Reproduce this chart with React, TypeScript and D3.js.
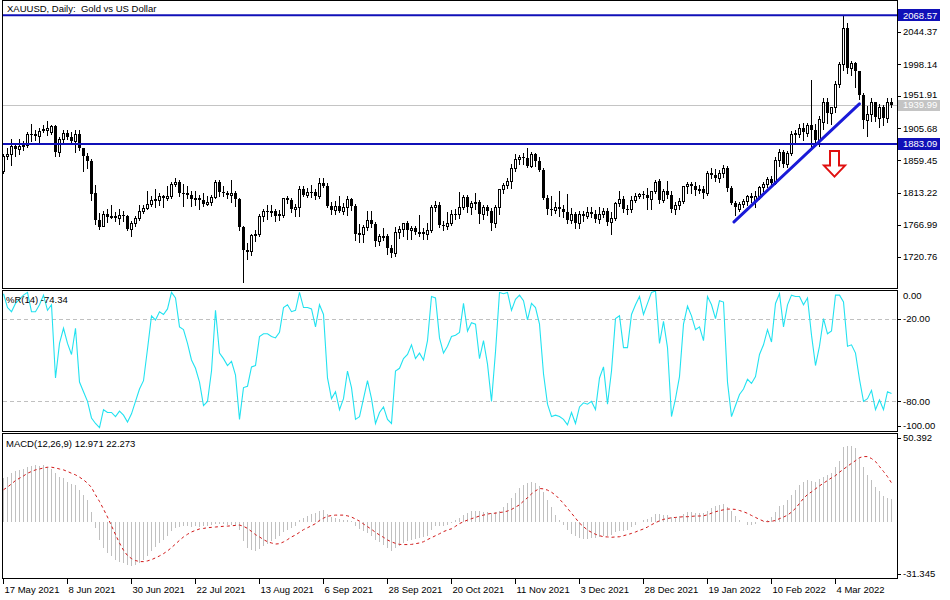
import React from "react";
import * as d3 from "d3";

const opens = [
  1845,1866,1869,1881,1876,1881,1882,1898,1897,1895,
  1903,1903,1900,1909,1871,1891,1899,1893,1888,1898,
  1877,1866,1859,1813,1774,1765,1783,1779,1779,1776,
  1781,1779,1761,1770,1777,1787,1791,1797,1803,1803,
  1808,1806,1809,1825,1829,1812,1812,1810,1804,1806,
  1802,1797,1799,1807,1828,1814,1813,1810,1812,1804,
  1763,1731,1729,1752,1753,1780,1787,1786,1787,1781,
  1781,1805,1802,1790,1792,1818,1810,1814,1814,1809,
  1827,1823,1794,1788,1794,1787,1793,1804,1794,1754,
  1754,1764,1774,1768,1743,1750,1751,1733,1726,1757,
  1761,1769,1760,1762,1756,1757,1754,1760,1793,1796,
  1767,1765,1769,1783,1782,1793,1807,1793,1798,1799,
  1783,1793,1787,1769,1792,1818,1824,1830,1849,1862,
  1865,1863,1851,1869,1859,1846,1805,1789,1788,1792,
  1789,1785,1774,1782,1769,1783,1779,1785,1783,1775,
  1783,1787,1771,1777,1798,1804,1790,1789,1803,1808,
  1811,1810,1804,1815,1830,1802,1816,1810,1789,1795,
  1801,1822,1826,1822,1817,1819,1813,1841,1839,1834,
  1842,1848,1820,1798,1790,1797,1801,1808,1803,1808,
  1821,1826,1833,1827,1860,1872,1855,1870,1898,1898,
  1906,1899,1910,1904,1889,1915,1944,1928,1936,1970,
  1998,2050,1993,2000,1988,1954,1918,1927,1943,1921,
  1936,1921,1944
];
const highs = [
  1869,1877,1890,1884,1890,1887,1900,1912,1903,1906,
  1910,1917,1911,1910,1894,1903,1903,1900,1903,1903,
  1878,1870,1862,1824,1784,1787,1790,1795,1785,1790,
  1786,1781,1772,1779,1795,1795,1815,1809,1818,1812,
  1810,1822,1829,1834,1832,1825,1822,1815,1815,1810,
  1812,1808,1810,1832,1832,1822,1816,1832,1816,1806,
  1765,1741,1754,1760,1782,1789,1795,1795,1790,1788,
  1806,1809,1806,1797,1822,1822,1820,1824,1818,1834,
  1834,1827,1799,1801,1809,1798,1809,1806,1797,1768,
  1767,1787,1787,1771,1753,1762,1754,1738,1764,1765,
  1770,1773,1765,1765,1781,1762,1770,1796,1801,1800,
  1772,1785,1788,1789,1814,1810,1810,1801,1813,1802,
  1795,1796,1791,1795,1819,1827,1834,1855,1869,1868,
  1870,1877,1871,1870,1865,1849,1810,1808,1800,1816,
  1796,1811,1791,1785,1786,1787,1793,1793,1788,1792,
  1791,1791,1785,1800,1815,1808,1795,1809,1812,1812,
  1815,1820,1815,1832,1833,1818,1830,1815,1800,1805,
  1823,1829,1829,1828,1824,1822,1845,1848,1847,1846,
  1853,1852,1822,1801,1800,1804,1810,1812,1815,1822,
  1829,1836,1837,1865,1876,1874,1873,1902,1904,1912,
  1914,1914,1975,1912,1923,1950,1950,1937,1974,2002,
  2069,2058,2003,2002,1989,1956,1938,1949,1944,1941,
  1940,1950,1949
];
const lows = [
  1842,1862,1853,1866,1869,1875,1879,1888,1889,1884,
  1901,1896,1898,1866,1866,1883,1890,1884,1871,1875,
  1845,1848,1803,1768,1761,1765,1771,1776,1773,1768,
  1772,1759,1750,1765,1774,1784,1789,1794,1793,1795,
  1792,1802,1806,1822,1809,1794,1806,1794,1795,1790,
  1794,1795,1796,1805,1808,1808,1806,1800,1794,1760,
  1685,1717,1724,1743,1750,1772,1775,1780,1773,1774,
  1778,1798,1785,1780,1780,1808,1807,1807,1804,1806,
  1821,1793,1782,1782,1785,1782,1781,1788,1745,1742,
  1742,1759,1764,1737,1738,1745,1725,1721,1722,1748,
  1750,1746,1746,1754,1750,1746,1747,1757,1787,1764,
  1760,1761,1766,1775,1777,1790,1785,1782,1789,1770,
  1775,1781,1759,1764,1782,1813,1820,1820,1845,1855,
  1855,1850,1850,1852,1844,1804,1782,1781,1784,1779,
  1778,1770,1770,1762,1762,1772,1776,1778,1771,1770,
  1778,1766,1753,1774,1794,1785,1782,1785,1800,1805,
  1806,1789,1789,1812,1798,1799,1805,1785,1783,1790,
  1798,1812,1813,1810,1812,1805,1810,1834,1830,1829,
  1836,1815,1797,1781,1786,1793,1796,1800,1792,1804,
  1816,1821,1822,1825,1851,1850,1850,1867,1886,1893,
  1889,1895,1878,1885,1880,1905,1913,1912,1930,1965,
  1990,1986,1983,1966,1948,1906,1895,1917,1917,1908,
  1910,1915,1936
];
const closes = [
  1866,1869,1881,1876,1881,1882,1898,1897,1895,1902,
  1905,1906,1909,1871,1891,1899,1893,1888,1898,1877,
  1866,1859,1811,1774,1764,1783,1778,1780,1776,1781,
  1779,1761,1770,1777,1787,1791,1797,1803,1804,1808,
  1806,1809,1825,1829,1812,1811,1810,1804,1806,1802,
  1797,1800,1807,1828,1814,1813,1810,1812,1804,1763,
  1730,1728,1752,1753,1780,1787,1786,1787,1780,1782,
  1805,1802,1790,1792,1818,1810,1814,1813,1809,1827,
  1823,1794,1788,1794,1787,1793,1804,1794,1754,1755,
  1764,1774,1768,1743,1750,1751,1733,1726,1757,1761,
  1769,1760,1762,1756,1757,1754,1760,1793,1796,1767,
  1765,1769,1783,1782,1793,1807,1793,1798,1799,1783,
  1793,1787,1769,1792,1818,1824,1830,1849,1862,1865,
  1863,1851,1869,1859,1846,1805,1789,1788,1792,1789,
  1785,1774,1782,1769,1783,1779,1785,1783,1775,1783,
  1787,1771,1777,1798,1804,1790,1789,1803,1808,1811,
  1810,1806,1815,1829,1802,1816,1810,1789,1795,1801,
  1822,1826,1822,1817,1819,1813,1841,1839,1834,1842,
  1848,1820,1798,1792,1797,1801,1808,1805,1808,1821,
  1826,1833,1827,1860,1872,1855,1870,1898,1899,1906,
  1900,1910,1904,1889,1919,1944,1928,1936,1970,1998,
  2050,1993,2000,1988,1954,1918,1927,1943,1922,1936,
  1921,1944,1940
];
const williamsR = [
  -2,-12,-15,-9,-6,-3,-1,-15,-15,-10,
  -3,-14,-10,-63,-38,-27,-38,-46,-27,-66,
  -73,-80,-92,-96,-99,-86,-88,-88,-91,-87,
  -90,-95,-89,-80,-71,-65,-42,-18,-21,-15,
  -17,-13,-1,-5,-26,-28,-38,-50,-56,-66,
  -83,-80,-58,-14,-45,-49,-54,-51,-61,-93,
  -70,-69,-55,-54,-33,-31,-31,-33,-34,-30,
  -12,-10,-15,-14,-1,-12,-12,-13,-26,-10,
  -17,-63,-78,-73,-86,-78,-58,-70,-93,-91,
  -78,-65,-78,-96,-88,-84,-93,-96,-58,-56,
  -49,-46,-39,-49,-45,-50,-36,-4,-5,-34,
  -45,-40,-33,-32,-30,-9,-29,-23,-24,-49,
  -36,-53,-80,-44,-1,-2,-1,-14,-6,-3,
  -7,-21,-9,-12,-24,-60,-82,-91,-90,-91,
  -93,-97,-88,-96,-84,-81,-82,-80,-86,-63,
  -55,-82,-58,-20,-18,-41,-41,-17,-10,-4,
  -17,-9,-1,0,-38,-22,-41,-91,-78,-62,
  -24,-11,-18,-28,-26,-36,-4,-10,-20,-7,
  -8,-66,-91,-83,-75,-71,-64,-67,-62,-46,
  -39,-28,-37,-9,-2,-26,-10,-3,-4,-4,
  -10,-5,-32,-54,-40,-20,-31,-29,-3,-3,
  -8,-40,-39,-45,-64,-80,-78,-72,-86,-79,
  -86,-73,-74.34
];
const macdHist = [
  25,25.8,27.7,28.7,29.6,30,31.5,32,32.4,32,
  32.6,31.5,30,27.7,25.8,24.9,23,21.7,21.2,18.4,
  15.5,12.4,5.6,-3.2,-9.7,-14.4,-17.2,-19.1,-21.3,-22.1,
  -22.8,-23.8,-24.3,-23.8,-22.8,-21,-18.7,-16.3,-13.9,-11.6,
  -9.7,-7.5,-5,-3.4,-2.6,-2.2,-2.2,-2.6,-2.2,-2.4,
  -2.2,-1.9,-1.5,-0.9,-0.9,-1.1,-1.3,-1.5,-1.9,-4.1,
  -10.7,-14.4,-15.7,-16.3,-15,-13.5,-12,-10.7,-9.4,-7.9,
  -5.6,-4.1,-3,-2.2,1.5,2.4,3.7,4.9,5.2,6.6,
  7.1,4.9,3,2.4,1.9,1.5,1.5,0.7,-2.2,-3.7,
  -5.1,-6,-7.5,-9.7,-11.2,-12.5,-14.4,-15.9,-14.4,-13.1,
  -11.6,-10.7,-9.7,-9.4,-8.8,-8.2,-7.5,-4.1,-2.2,-2.2,
  -1.9,-1.3,-0.4,1.1,2.4,4.3,5.2,6.2,6.7,6.2,
  6,5.6,5.2,5.6,6.7,8.6,10.9,13.7,16.5,19.3,
  21.2,22.1,22.5,22.1,20.6,16.9,12.7,8.6,4.3,1.5,
  -1.3,-4.1,-6.4,-7.9,-8.8,-9.2,-9.4,-8.8,-8.8,-8.2,
  -7.5,-7.5,-6.9,-5.6,-5.1,-5.1,-4.5,-2.6,-1.3,0.4,
  1.1,1.9,3,4.9,4.9,4.3,4.3,3,3,3.7,
  4.9,5.6,5.6,5.2,5.2,5.2,6.7,7.9,9,9.9,
  10.5,8.6,6.2,3.4,1.1,0,-1.3,-1.5,-1.1,0,
  0.6,1.5,2.8,5.6,9,9.7,12.4,15.4,18,21,
  23,24,23.6,23,24.3,25.8,26.8,28.1,31.1,34.8,
  42.7,43.1,43.1,41.8,36.1,31.5,26.8,24,20.2,17.8,
  14.6,13.7,12.971
];
const macdSignal = [
  18.4,19.9,21.7,23.6,24.9,26.2,27.7,28.7,29.6,30.1,
  30.7,31.1,31.1,30.7,30.1,29.6,28.7,27.7,26.8,25.5,
  24,22.1,19.7,15.5,11.8,7.5,3,-1.9,-6.9,-11.6,
  -15.7,-18.7,-20.4,-21.5,-22.1,-22.1,-21.7,-21,-20,-18.9,
  -17.6,-16.1,-14.2,-12.2,-10.1,-8.2,-6.7,-5.4,-4.5,-3.7,
  -3.4,-3,-2.8,-2.6,-2.4,-2.2,-2.1,-1.9,-1.7,-1.5,
  -2.2,-3.4,-5.1,-6.9,-8.2,-9.7,-10.9,-11.6,-12.2,-12,
  -11,-9.7,-8.2,-7.1,-5.6,-4.1,-3,-1.9,-0.7,1.1,
  2.4,3.4,3.9,4.1,4.1,4.1,3.7,3,1.9,0.7,
  -0.9,-2.4,-3.9,-5.6,-7.1,-8.4,-9.9,-11,-11.8,-12.4,
  -12.5,-12.5,-12.4,-12,-11.6,-10.9,-9.7,-8.6,-7.5,-6.4,
  -5.2,-4.3,-3.6,-2.2,-0.7,0.4,1.3,2.1,2.8,3.6,
  4.1,4.7,5.1,5.2,5.6,5.8,6.4,7.3,8.6,9.9,
  12,13.9,16.1,17.8,19.1,18.9,18.2,17,15.4,13.1,
  10.7,7.9,5.2,2.4,-0.4,-2.4,-4.3,-5.6,-6.7,-7.5,
  -8.1,-8.2,-8.4,-8.2,-8.1,-7.5,-6.9,-6.2,-5.4,-4.5,
  -3.7,-2.6,-1.3,-0.2,0.9,1.7,2.2,2.6,2.8,3,
  3.2,3.2,3.4,3.6,3.6,3.7,4.3,5.2,6,6.6,
  7.1,7.5,7.5,7.3,6.7,6,5.1,3.9,2.8,1.7,
  0.7,0.4,0.6,1.1,2.1,3,4.1,5.8,7.9,10.7,
  13.5,15.7,17.2,18.9,20.6,22.1,23.6,25.1,26.4,28.3,
  30,31.6,33.3,34.8,36.5,37.1,37.1,36,34.3,31.5,
  28.7,25.8,22.273
];

const dateLabels = [
  "17 May 2021", "8 Jun 2021", "30 Jun 2021", "22 Jul 2021", "13 Aug 2021",
  "6 Sep 2021", "28 Sep 2021", "20 Oct 2021", "11 Nov 2021", "3 Dec 2021",
  "28 Dec 2021", "19 Jan 2022", "10 Feb 2022", "4 Mar 2022"
];
const dateLabelBars = [0, 16, 32, 48, 64, 80, 96, 112, 128, 144, 160, 176, 192, 208];
const priceTicks = [2044.37, 1998.14, 1951.91, 1905.68, 1859.45, 1813.22, 1766.99, 1720.76];
const levelLines = [2068.57, 1883.09];
const lastPrice = 1939.99;
const wprTicks = [0, -20, -80, -100];
const wprLevels = [-20, -80];
const macdTicks = [50.392, -31.345];
const trendBars = [182.75, 214.1];
const trendPrices = [1771, 1941];
const arrowBar = 207.75;
const arrowPrice = 1873;

const FONT = '"Liberation Sans", Arial, sans-serif';
const FS = 9.5;
const BLUE = "#1010b8";

export default function App() {
  const N = closes.length;
  const L = 2.5, R = 897.5;
  const x = d3.scaleLinear().domain([0, N - 1]).range([3, 3 + 4 * (N - 1)]);
  const yP = d3.scaleLinear().domain([1675.8, 2090.6]).range([288, 0]);
  const yW = d3.scaleLinear().domain([-100, 0]).range([429, 291]);
  const yM = d3.scaleLinear().domain([-31.345, 50.392]).range([578, 433]);

  const wLine = d3.line<number>().x((_, i) => Math.round(x(i)) + 0.5).y((d) => yW(d));
  const sLine = d3.line<number>().x((_, i) => Math.round(x(i)) + 0.5).y((d) => yM(d));
  const fmt = (v: number) => v.toFixed(2);

  const ax = 0.5 + Math.round(x(arrowBar));
  const at = yP(arrowPrice);
  const arrowPath = `M${ax - 4.5},${at} L${ax + 4.5},${at} L${ax + 4.5},${at + 14.5} L${ax + 10.5},${at + 14.5} L${ax},${at + 25.5} L${ax - 10.5},${at + 14.5} L${ax - 4.5},${at + 14.5} Z`;

  return (
    <svg width={950} height={600} style={{ position: "absolute", left: 0, top: 0, background: "#fff" }} fontFamily={FONT} fontSize={FS}>
      <rect x={0} y={0} width={950} height={600} fill="#fff" />
      <defs>
        <clipPath id="cp"><rect x={L} y={0.5} width={R - L} height={288} /></clipPath>
        <clipPath id="cw"><rect x={L} y={290.5} width={R - L} height={141} /></clipPath>
        <clipPath id="cm"><rect x={L} y={433.5} width={R - L} height={145} /></clipPath>
      </defs>

      {/* price panel */}
      <g clipPath="url(#cp)">
        <line x1={L} x2={R} y1={Math.round(yP(lastPrice)) + 0.5} y2={Math.round(yP(lastPrice)) + 0.5} stroke="#c4c4c4" />
        <g shapeRendering="crispEdges">
          {opens.map((o, i) => {
            const X = Math.round(x(i));
            const c = closes[i];
            const top = Math.round(yP(Math.max(o, c)));
            const bot = Math.round(yP(Math.min(o, c)));
            const bull = c >= o;
            return (
              <g key={i}>
                <line x1={X + 0.5} x2={X + 0.5} y1={Math.round(yP(highs[i]))} y2={Math.round(yP(lows[i])) + 1} stroke="#000" />
                {bull ? (
                  <rect x={X - 0.5} y={top + 0.5} width={2} height={Math.max(bot - top, 1)} fill="#fff" stroke="#000" />
                ) : (
                  <rect x={X - 1} y={top} width={3} height={Math.max(bot - top, 1)} fill="#000" />
                )}
              </g>
            );
          })}
        </g>
        {levelLines.map((v) => (
          <line key={v} x1={L} x2={R} y1={yP(v)} y2={yP(v)} stroke={BLUE} strokeWidth={2} />
        ))}
        <line x1={x(trendBars[0])} y1={yP(trendPrices[0])} x2={x(trendBars[1])} y2={yP(trendPrices[1])} stroke="#1a1ad8" strokeWidth={3} strokeLinecap="round" />
        <path d={arrowPath} fill="#fff" stroke="#e01010" strokeWidth={2} strokeLinejoin="miter" />
      </g>
      <text x={7} y={12} style={{ whiteSpace: "pre" }}>XAUUSD, Daily:  Gold vs US Dollar</text>

      {/* Williams %R panel */}
      <g shapeRendering="crispEdges">
        {wprLevels.map((v) => (
          <line key={v} x1={L} x2={R} y1={Math.round(yW(v)) + 0.5} y2={Math.round(yW(v)) + 0.5} stroke="#c0c0c0" strokeDasharray="4 3" />
        ))}
      </g>
      <g clipPath="url(#cw)">
        <path d={wLine(williamsR) || ""} fill="none" stroke="#22e2f0" strokeWidth={1.1} />
      </g>
      <text x={6} y={303}>%R(14) -74.34</text>

      {/* MACD panel */}
      <g clipPath="url(#cm)" shapeRendering="crispEdges">
        {macdHist.map((v, i) => {
          const X = Math.round(x(i)) + 0.5;
          return <line key={i} x1={X} x2={X} y1={yM(0)} y2={yM(v)} stroke="#c0c0c0" />;
        })}
      </g>
      <g clipPath="url(#cm)">
        <path d={sLine(macdSignal) || ""} fill="none" stroke="#d01818" strokeWidth={1} strokeDasharray="3 3" />
      </g>
      <text x={6} y={447}>MACD(12,26,9) 12.971 22.273</text>

      {/* panel borders */}
      <g shapeRendering="crispEdges" fill="none" stroke="#000">
        <rect x={L} y={0.5} width={R - L} height={288} />
        <rect x={L} y={290.5} width={R - L} height={141} />
        <rect x={L} y={433.5} width={R - L} height={145} />
      </g>

      {/* price axis */}
      <g shapeRendering="crispEdges">
        {priceTicks.map((v) => (
          <g key={v}>
            <line x1={R} x2={901} y1={Math.round(yP(v)) + 0.5} y2={Math.round(yP(v)) + 0.5} stroke="#000" />
            <text x={903} y={v === 1951.91 ? yP(v) - 1.5 : yP(v)} dy="0.35em">{fmt(v)}</text>
          </g>
        ))}
        <rect x={898} y={yP(lastPrice) - 5} width={42} height={11} fill="#c4c4c4" />
        <text x={903} y={yP(lastPrice) + 0.5} dy="0.35em" fill="#fff">{fmt(lastPrice)}</text>
        {levelLines.map((v) => (
          <g key={v}>
            <rect x={898} y={yP(v) - 6} width={42} height={12} fill={BLUE} />
            <text x={903} y={yP(v)} dy="0.35em" fill="#fff">{fmt(v)}</text>
          </g>
        ))}
      </g>

      {/* %R axis */}
      <g shapeRendering="crispEdges">
        {wprTicks.map((v) => {
          const yy = Math.min(Math.max(yW(v), 296), 426);
          return (
            <g key={v}>
              {v !== 0 && <line x1={R} x2={901} y1={Math.round(yy) + 0.5} y2={Math.round(yy) + 0.5} stroke="#000" />}
              <text x={903} y={yy} dy="0.35em">{fmt(v)}</text>
            </g>
          );
        })}
      </g>

      {/* MACD axis */}
      <g shapeRendering="crispEdges">
        {macdTicks.map((v) => {
          const yy = Math.min(Math.max(yM(v), 438), 574);
          return (
            <g key={v}>
              <line x1={R} x2={901} y1={Math.round(yy) + 0.5} y2={Math.round(yy) + 0.5} stroke="#000" />
              <text x={903} y={yy} dy="0.35em">{v.toFixed(3)}</text>
            </g>
          );
        })}
      </g>

      {/* time axis */}
      <g shapeRendering="crispEdges">
        {dateLabelBars.map((b, k) => {
          const X = Math.round(x(b)) + 0.5;
          return (
            <g key={b}>
              <line x1={X} x2={X} y1={578.5} y2={584} stroke="#000" />
              <text x={X + 1} y={593}>{dateLabels[k]}</text>
            </g>
          );
        })}
      </g>
    </svg>
  );
}
